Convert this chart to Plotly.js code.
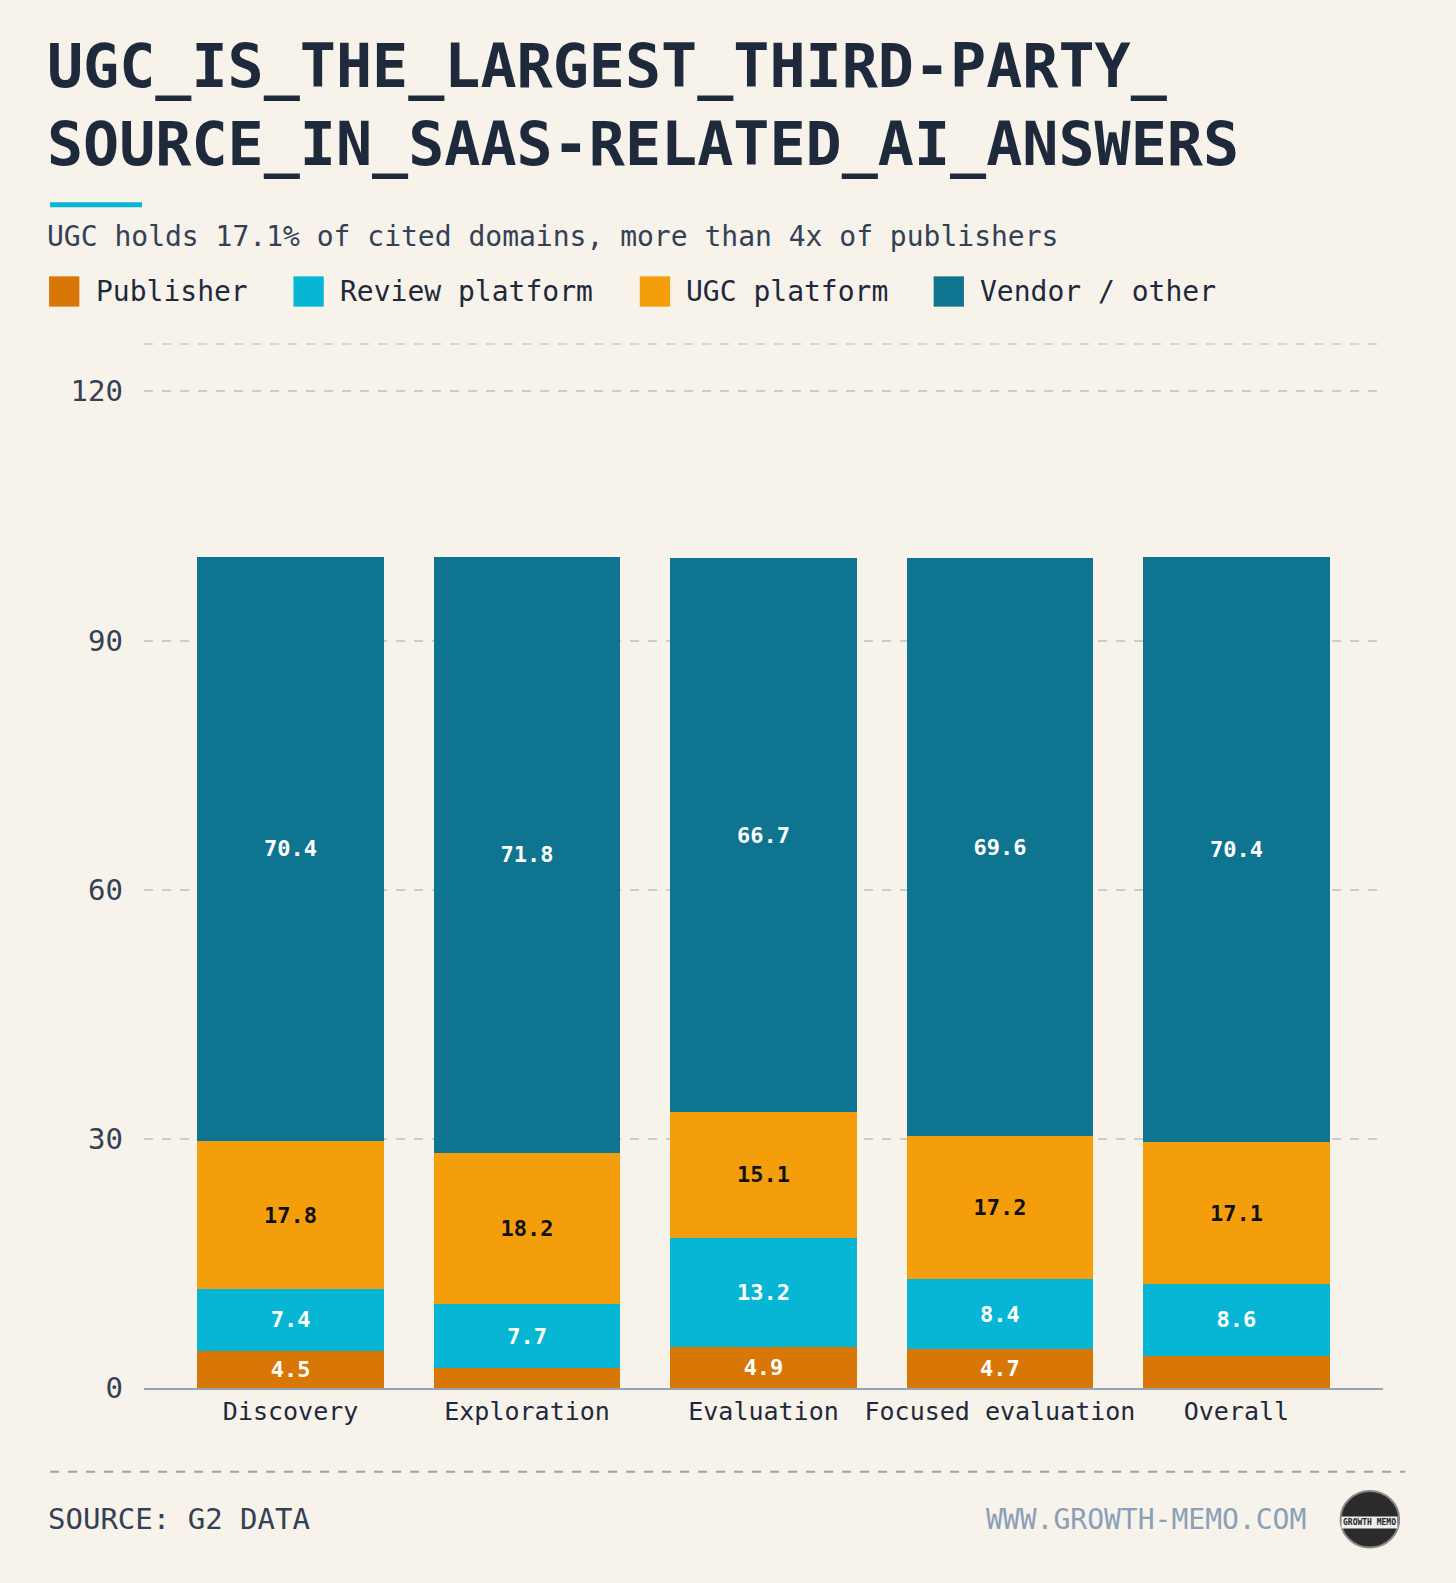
<!DOCTYPE html>
<html>
<head>
<meta charset="utf-8">
<script src="https://cdn.plot.ly/plotly-3.0.1.min.js"></script>
<style>
body { margin: 0; background: #f7f2ea; }
#chart { width: 1456px; height: 1583px; }
</style>
</head>
<body>
<div id="chart"></div>
<script>
// data
var stages = ["Discovery", "Exploration", "Evaluation", "Focused evaluation", "Overall"];
var publisher = [4.5, 2.4, 4.9, 4.7, 3.9];
var review = [7.4, 7.7, 13.2, 8.4, 8.6];
var ugc = [17.8, 18.2, 15.1, 17.2, 17.1];
var vendor = [70.4, 71.8, 66.7, 69.6, 70.4];

var seriesNames = ["Publisher", "Review platform", "UGC platform", "Vendor / other"];
var seriesColors = ["#d97706", "#06b6d4", "#f59e0b", "#0e7490"];

var mono = "DejaVu Sans Mono";

function labels(vals)
{
    return vals.map(v => v >= 4.4 ? v.toFixed(1) : "");
}

function makeTrace(i, vals, textColor)
{
    return {
        type: "bar",
        name: seriesNames[i],
        x: [0, 1, 2, 3, 4],
        y: vals,
        text: labels(vals),
        textposition: "inside",
        insidetextanchor: "middle",
        textangle: 0,
        textfont: {family: mono, size: 22, color: textColor, weight: "bold"},
        marker: {color: seriesColors[i]},
        hoverinfo: "y+name"
    };
}

var data = [
    makeTrace(0, publisher, "#ffffff"),
    makeTrace(1, review, "#ffffff"),
    makeTrace(2, ugc, "#111111"),
    makeTrace(3, vendor, "#ffffff")
];

// reference measured at 0.9905 scale; convert to page pixels
var S = 1 / 0.9905;
var T = 341 * S, B = 1375 * S, L = 143 * S, R = 1370 * S;
function px(x) { return (x * S - L) / (R - L); }
function py(y) { return (B - y * S) / (B - T); }

var shapes = [
    {type: "line", xref: "paper", yref: "paper", x0: 0, x1: 1, y0: 1, y1: 1,
     line: {color: "#cccccc", width: 1.5, dash: "dash"}},
    {type: "line", xref: "paper", yref: "paper", x0: px(50), x1: px(141), y0: py(203), y1: py(203),
     line: {color: "#06b6d4", width: 5}},
    {type: "line", xref: "paper", yref: "paper", x0: px(50), x1: px(1392), y0: py(1458), y1: py(1458),
     line: {color: "#94a3b8", width: 2, dash: "dash"}},
    {type: "circle", xref: "paper", yref: "paper", x0: px(1328), x1: px(1386), y0: py(1533), y1: py(1477),
     fillcolor: "#2b2b2b", line: {color: "#888", width: 2}}
];

var annotations = [
    {xref: "paper", yref: "paper", x: px(45), y: py(180), xanchor: "left", yanchor: "bottom", align: "left",
     showarrow: false, text: "UGC_IS_THE_LARGEST_THIRD-PARTY_<br>SOURCE_IN_SAAS-RELATED_AI_ANSWERS",
     font: {family: mono, size: 60, color: "#1e293b", weight: "bold"}},
    {xref: "paper", yref: "paper", x: px(45), y: py(235), xanchor: "left", yanchor: "middle",
     showarrow: false, text: "UGC holds 17.1% of cited domains, more than 4x of publishers",
     font: {family: mono, size: 28, color: "#334155"}},
    {xref: "paper", yref: "paper", x: px(46), y: py(1505), xanchor: "left", yanchor: "middle",
     showarrow: false, text: "SOURCE: G2 DATA",
     font: {family: mono, size: 29, color: "#334155"}},
    {xref: "paper", yref: "paper", x: px(1296), y: py(1505), xanchor: "right", yanchor: "middle",
     showarrow: false, text: "WWW.GROWTH-MEMO.COM",
     font: {family: mono, size: 28, color: "#8aa0b8"}},
    {xref: "paper", yref: "paper", x: px(1357), y: py(1508), xanchor: "center", yanchor: "middle",
     showarrow: false, text: "GROWTH MEMO", bgcolor: "#eeeeee",
     font: {family: mono, size: 8, color: "#222", weight: "bold"}}
];

// custom legend: squares and labels
var legendX = [49, 291, 634, 925];
seriesNames.forEach((n, i) => {
    shapes.push({type: "rect", xref: "paper", yref: "paper",
        x0: px(legendX[i]), x1: px(legendX[i] + 30), y0: py(304), y1: py(274),
        fillcolor: seriesColors[i], line: {width: 0}});
    annotations.push({xref: "paper", yref: "paper", x: px(legendX[i] + 44), y: py(289),
        xanchor: "left", yanchor: "middle", showarrow: false, text: n,
        font: {family: mono, size: 28, color: "#1e293b"}});
});

var layout = {
    width: 1456,
    height: 1583,
    barmode: "stack",
    bargap: 0.21,
    paper_bgcolor: "#f7f2ea",
    plot_bgcolor: "#f7f2ea",
    margin: {l: L, r: 1456 - R, t: T, b: 1583 - B},
    font: {family: mono, color: "#1e293b"},
    showlegend: false,
    xaxis: {
        range: [-0.62, 4.62],
        tickvals: [0, 1, 2, 3, 4],
        ticktext: stages,
        tickfont: {family: mono, size: 25, color: "#1e293b"},
        showline: true, linecolor: "#94a3b8", linewidth: 2,
        ticks: "", showgrid: false, zeroline: false
    },
    yaxis: {
        range: [0, 125.7],
        tickvals: [0, 30, 60, 90, 120],
        tickfont: {family: mono, size: 29, color: "#334155"},
        showgrid: true, gridcolor: "#cccccc", griddash: "dash", gridwidth: 1.5,
        zeroline: false, ticks: "", ticklabelstandoff: 20
    },
    shapes: shapes,
    annotations: annotations
};

Plotly.newPlot("chart", data, layout, {displayModeBar: false});

// border around the card
document.getElementById("chart").style.boxShadow = "inset 0 0 0 2px #e8c48f";
</script>
</body>
</html>
